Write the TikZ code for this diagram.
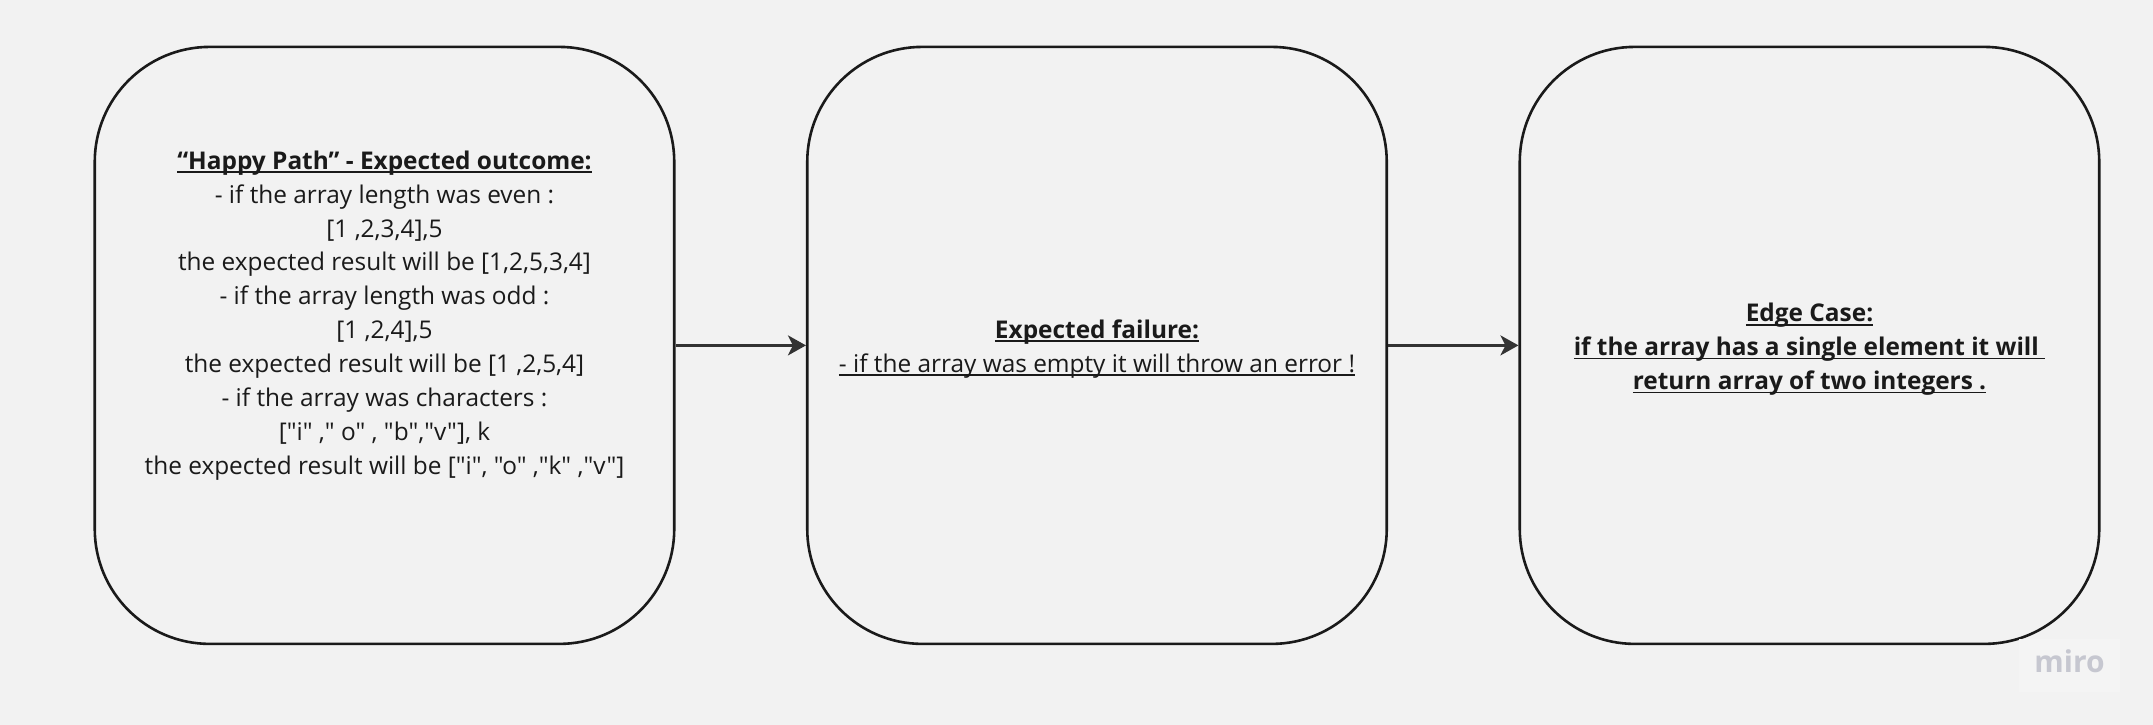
\documentclass[tikz,border=0pt]{standalone}
\usepackage{fontspec}
\setmainfont{Open Sans}[Ligatures=TeXOff]
\usetikzlibrary{arrows.meta}
\definecolor{bg}{HTML}{F2F2F2}
\definecolor{ink}{HTML}{1A1A1A}
\definecolor{edge}{HTML}{1A1A1A}
\definecolor{arr}{HTML}{333333}
\definecolor{wm}{HTML}{C6C7D0}
\definecolor{wmbg}{HTML}{F4F4F4}
\newcommand\myul[1]{\leavevmode\setbox0=\hbox{#1}\rlap{\color{ink}\rule[-3.6pt]{\wd0}{1.6pt}}\box0}
\begin{document}
\begin{tikzpicture}[x=1pt,y=-1pt,
  box/.style={draw=edge, line width=2.6pt, rounded corners=115pt, minimum width=579.5pt, minimum height=597pt, inner sep=0pt},
  txt/.style={text=ink, align=center, font=\fontsize{24.4}{33.9}\selectfont, inner sep=0pt},
  conn/.style={draw=arr, line width=2.6pt, -{Stealth[length=18pt,width=20pt,inset=5pt]}}]
\fill[bg] (0,0) rectangle (2153,725);
\useasboundingbox (0,0) rectangle (2153,725);
\node[box] (b1) at (384.5,345.4) {};
\node[box] (b2) at (1097,345.4) {};
\node[box] (b3) at (1809.5,345.4) {};
\node[txt] (t1) at (384.5,315.5) {\myul{\bfseries “Happy Path” - Expected outcome:}\\
- if the array length was even :\\
{[}1 ,2,3,4],5\\
the expected result will be [1,2,5,3,4]\\
- if the array length was odd :\\
{[}1 ,2,4],5\\
the expected result will be [1 ,2,5,4]\\
- if the array was characters :\\
{[}"i" ," o" , "b","v"], k\\
the expected result will be ["i", "o" ,"k" ,"v"]};
\node[txt] (t2) at (1097,349) {\myul{\bfseries Expected failure:}\\
\myul{- if the array was empty it will throw an error !}};
\node[txt] (t3) at (1809.5,349.5) {\myul{\bfseries Edge Case:}\\
\myul{\bfseries if the array has a single element it will\ }\\
\myul{\bfseries return array of two integers .}};
\draw[conn] (b1) -- (b2);
\draw[conn] (b2) -- (b3);
\node[fill=wmbg, minimum width=101pt, minimum height=53pt, inner sep=0pt] (wmbox) at (2069.5,665.5) {};
\node[text=wm, inner sep=0pt, font=\fontsize{30}{30}\bfseries\selectfont] (wmtext) at (2069.5,661.5) {miro};
\end{tikzpicture}
\end{document}
